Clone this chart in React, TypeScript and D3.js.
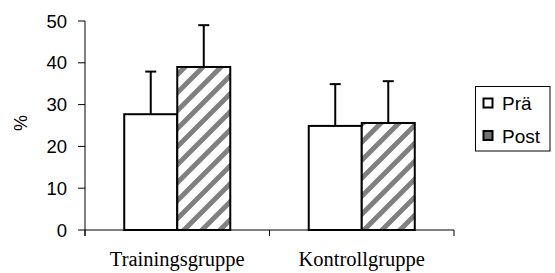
import React from "react";
import * as d3 from "d3";

const categories = ["Trainingsgruppe", "Kontrollgruppe"];
const seriesNames = ["Prä", "Post"];
const preValues = [27.7, 24.9];
const postValues = [39.0, 25.6];
const preErrors = [10.2, 10.0];
const postErrors = [10.0, 10.0];
const yTicks = [0, 10, 20, 30, 40, 50];

const W = 555;
const H = 273;
const left = 85;
const right = 454;
const top = 21;
const bottom = 230;

export default function App() {
  const y = d3.scaleLinear().domain([0, 50]).range([bottom, top]);
  const x0 = d3.scaleBand<string>().domain(categories).range([left, right]).paddingInner(0).paddingOuter(0);
  const x1 = d3
    .scaleBand<string>()
    .domain(seriesNames)
    .range([0, x0.bandwidth()])
    .paddingInner(0)
    .paddingOuter(0.74);

  const seriesValues = [preValues, postValues];
  const seriesErrors = [preErrors, postErrors];
  const sans = "'Liberation Sans', Arial, sans-serif";
  const serif = "'Liberation Serif', 'Times New Roman', serif";
  const capHalf = 5.5;

  const xTickPositions = [left, ...categories.map((c) => (x0(c) as number) + x0.bandwidth())];

  return (
    <svg
      width={W}
      height={H}
      style={{ position: "absolute", left: 0, top: 0, background: "#fff" }}
    >
      <defs>
        <pattern id="hatch" patternUnits="userSpaceOnUse" width={18} height={18}>
          <rect width={18} height={18} fill="#fff" />
          <path
            d="M-2,2 L2,-2 M0,18 L18,0 M16,20 L20,16"
            stroke="#808080"
            strokeWidth={5}
          />
        </pattern>
      </defs>

      {/* bars */}
      {categories.map((c, ci) =>
        seriesNames.map((s, si) => {
          const v = seriesValues[si][ci];
          const e = seriesErrors[si][ci];
          const bx = (x0(c) as number) + (x1(s) as number);
          const bw = x1.bandwidth();
          const cx = bx + bw / 2;
          return (
            <g key={c + s}>
              <line x1={cx} x2={cx} y1={y(v)} y2={y(v + e)} stroke="#000" strokeWidth={2} />
              <line x1={cx - capHalf} x2={cx + capHalf} y1={y(v + e)} y2={y(v + e)} stroke="#000" strokeWidth={2} />
              <rect
                x={bx}
                y={y(v)}
                width={bw}
                height={y(0) - y(v)}
                fill={si === 0 ? "#fff" : "url(#hatch)"}
                stroke="#000"
                strokeWidth={2}
              />
            </g>
          );
        })
      )}

      {/* y axis */}
      <line x1={left} x2={left} y1={top} y2={bottom + 6} stroke="#000" strokeWidth={1} />
      {yTicks.map((t) => (
        <g key={t}>
          <line x1={left - 7} x2={left} y1={y(t)} y2={y(t)} stroke="#000" strokeWidth={1} />
          <text
            x={67}
            y={y(t) + 6.5}
            textAnchor="end"
            fontFamily={sans}
            fontSize={18.5}
            fill="#000"
          >
            {t}
          </text>
        </g>
      ))}
      <text
        transform={`translate(27,123) rotate(-90)`}
        textAnchor="middle"
        fontFamily={sans}
        fontSize={18}
        fill="#000"
      >
        %
      </text>

      {/* x axis */}
      <line x1={left} x2={right} y1={bottom} y2={bottom} stroke="#000" strokeWidth={1} />
      {xTickPositions.map((px, i) => (
        <line key={i} x1={px} x2={px} y1={bottom} y2={bottom + 6} stroke="#000" strokeWidth={1} />
      ))}
      {categories.map((c) => (
        <text
          key={c}
          x={(x0(c) as number) + x0.bandwidth() / 2}
          y={266}
          textAnchor="middle"
          fontFamily={serif}
          fontSize={20.5}
          fill="#000"
        >
          {c}
        </text>
      ))}

      {/* legend */}
      <rect x={475.5} y={86.5} width={74.5} height={64.5} fill="#fff" stroke="#000" strokeWidth={1} />
      {seriesNames.map((s, i) => {
        const cy = 103 + i * 32.5;
        return (
          <g key={s}>
            <rect
              x={483.5}
              y={cy - 4.5}
              width={9}
              height={9}
              fill={i === 0 ? "#fff" : "#707070"}
              stroke="#000"
              strokeWidth={2}
            />
            <text x={502} y={cy + 7} fontFamily={sans} fontSize={19} fill="#000">
              {s}
            </text>
          </g>
        );
      })}
    </svg>
  );
}
